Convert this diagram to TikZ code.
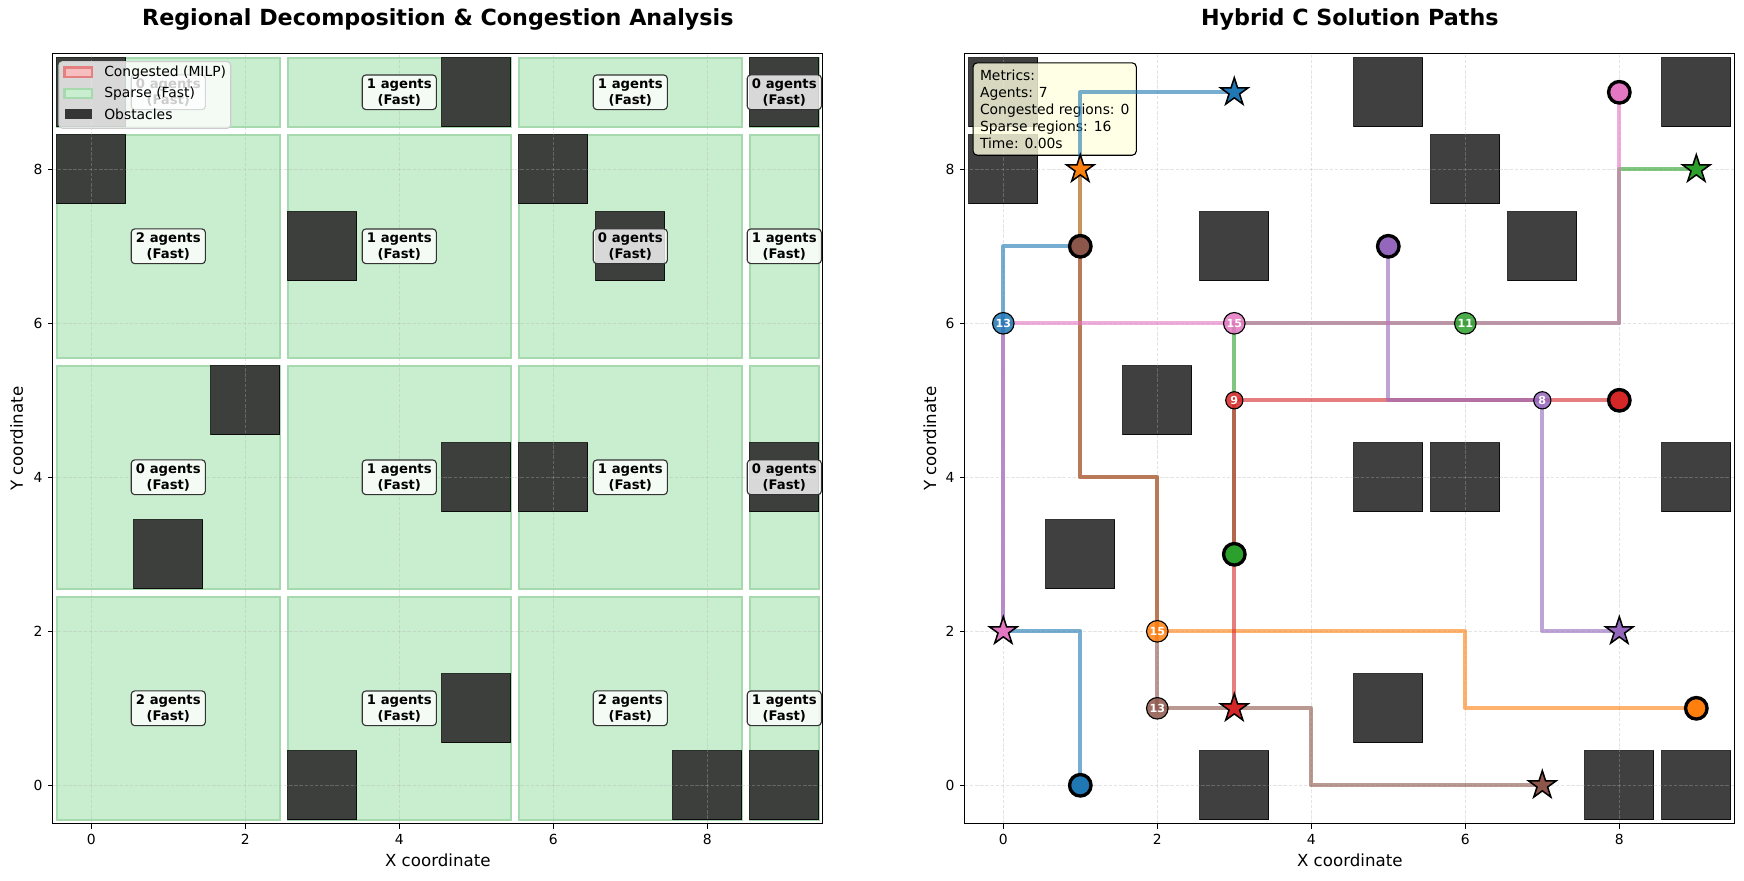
\documentclass[tikz,border=0pt]{standalone}
\usepackage{fontspec}
\setmainfont{DejaVu Sans}
\usetikzlibrary{shapes.geometric,positioning}

\definecolor{tblue}{HTML}{1F77B4}
\definecolor{torange}{HTML}{FF7F0E}
\definecolor{tgreen}{HTML}{2CA02C}
\definecolor{tred}{HTML}{D62728}
\definecolor{tpurple}{HTML}{9467BD}
\definecolor{tbrown}{HTML}{8C564B}
\definecolor{tpink}{HTML}{E377C2}
\definecolor{regfill}{RGB}{201,238,207}
\definecolor{regedge}{RGB}{166,217,174}
\definecolor{obstdark}{RGB}{60,63,60}
\definecolor{milpfill}{RGB}{246,190,190}
\definecolor{milpedge}{RGB}{228,128,128}
\definecolor{metricfill}{RGB}{255,255,224}

\begin{document}
\begin{tikzpicture}
  [x=0.72pt,y=0.72pt,
   region/.style={fill=regfill,draw=regedge,line width=1.5pt},
   obst/.style={fill=black,fill opacity=0.75,draw=black,draw opacity=0.8,line width=0.7pt},
   gridline/.style={draw=black!30,draw opacity=0.35,line width=0.6pt,dash pattern=on 2.5pt off 1.2pt},
   frame/.style={draw=black,line width=0.8pt},
   tick/.style={draw=black,line width=0.8pt},
   ticklbl/.style={inner sep=0pt,font=\fontsize{10}{12}\selectfont},
   axlbl/.style={inner sep=0pt,font=\fontsize{12}{14}\selectfont},
   ttl/.style={anchor=base,inner sep=0pt,font=\bfseries\fontsize{16}{19}\selectfont},
   cnt/.style={draw=black!80,line width=0.8pt,fill=white,fill opacity=0.8,text opacity=1,
     rounded corners=2.5pt,align=center,inner xsep=3.4pt,inner ysep=2.6pt,
     font=\bfseries\fontsize{9.5}{11.5}\selectfont},
   route/.style={line width=3pt,opacity=0.6,line join=round},
   start/.style={circle,draw=black,line width=2.4pt,minimum size=15.5pt,inner sep=0pt},
   goal/.style={star,star points=5,star point ratio=2.618,draw=black,line width=1.1pt,
     minimum size=21pt,inner sep=0pt},
   wait/.style={circle,draw=black,line width=0.8pt,fill opacity=0.85,text opacity=1,text=white,
     minimum size=15pt,inner sep=0pt,font=\bfseries\fontsize{8}{8}\selectfont},
   legtxt/.style={anchor=west,inner sep=0pt,font=\fontsize{10}{12}\selectfont}]

  \fill[white] (0,0) rectangle (1744,881);
  \useasboundingbox (0,0) rectangle (1744,881);

  % titles and axis labels
  \node[ttl] (t-left) at (437.8,855) {Regional Decomposition \& Congestion Analysis};
  \node[ttl] (t-right) at (1349.8,855) {Hybrid C Solution Paths};
  \node[axlbl] (xl-left) at (437.8,21) {X coordinate};
  \node[axlbl] (xl-right) at (1349.8,21) {X coordinate};
  \node[axlbl,rotate=90] (yl-left) at (16.7,442.3) {Y coordinate};
  \node[axlbl,rotate=90] (yl-right) at (929.8,442.3) {Y coordinate};

  % left: regions
  \begin{scope}[shift={(91.3,95.7)},x=55.44pt,y=55.44pt]
    \foreach \xa/\xb in {-0.5/2.5,2.5/5.5,5.5/8.5,8.5/9.5}
      \foreach \ya/\yb in {-0.5/2.5,2.5/5.5,5.5/8.5,8.5/9.5}
        \draw[region] (\xa+0.05,\ya+0.05) rectangle (\xb-0.05,\yb-0.05);
    \foreach \ox/\oy in {0/9,0/8,3/7,5/9,9/9,6/8,7/7,2/5,1/3,5/4,6/4,9/4,3/0,5/1,8/0,9/0}
      \draw[obst,fill=obstdark,fill opacity=1] (\ox-0.45,\oy-0.45) rectangle (\ox+0.45,\oy+0.45);
    \foreach \g in {0,2,4,6,8} {
      \draw[gridline] (\g,-0.5) -- (\g,9.5);
      \draw[gridline] (-0.5,\g) -- (9.5,\g);
    }
    \foreach \lx/\ly/\n in {1/9/0,4/9/1,7/9/1,9/9/0,1/7/2,4/7/1,7/7/0,9/7/1,
                            1/4/0,4/4/1,7/4/1,9/4/0,1/1/2,4/1/1,7/1/2,9/1/1}
      \node[cnt] (c\lx\ly) at (\lx,\ly) {\n\ agents\\(Fast)};
    \foreach \g in {0,2,4,6,8} {
      \draw[tick] (\g,-0.5) -- ++(0,-3.5pt) node[ticklbl,below=3.5pt] (lx\g) {\g};
      \draw[tick] (-0.5,\g) -- ++(-3.5pt,0) node[ticklbl,left=3.5pt] (ly\g) {\g};
    }
  \end{scope}

  % left: legend
  \draw[draw=black!20,fill=white,fill opacity=0.8,rounded corners=2.5pt,line width=0.8pt]
    (59,752.7) rectangle (230.7,819.3);
  \draw[fill=milpfill,draw=milpedge,line width=1.6pt] (64.5,803.9) rectangle (92.3,813.5);
  \draw[fill=regfill,draw=regedge,line width=1.6pt] (64.5,782.7) rectangle (92.3,792.3);
  \fill[black,fill opacity=0.75] (64.5,762.2) rectangle (92.3,771.8);
  \node[legtxt] (lg1) at (104,808.7) {Congested (MILP)};
  \node[legtxt] (lg2) at (104,787.5) {Sparse (Fast)};
  \node[legtxt] (lg3) at (104,767) {Obstacles};
  \draw[frame] (52.8,57.2) rectangle (822.8,827.2);

  % right: paths
  \begin{scope}[shift={(1003.3,95.7)},x=55.44pt,y=55.44pt]
    \foreach \ox/\oy in {0/9,0/8,3/7,5/9,9/9,6/8,7/7,2/5,1/3,5/4,6/4,9/4,3/0,5/1,8/0,9/0}
      \draw[obst] (\ox-0.45,\oy-0.45) rectangle (\ox+0.45,\oy+0.45);
    \foreach \g in {0,2,4,6,8} {
      \draw[gridline] (\g,-0.5) -- (\g,9.5);
      \draw[gridline] (-0.5,\g) -- (9.5,\g);
    }
    \node[anchor=north west,draw=black,line width=0.8pt,fill=metricfill,fill opacity=0.8,
      text opacity=1,rounded corners=3pt,align=left,inner sep=5pt,
      font=\fontsize{10}{12.2}\selectfont] (metrics) at (-0.4,9.39)
      {Metrics:\\Agents: 7\\Congested regions: 0\\Sparse regions: 16\\Time: 0.00s};

    \coordinate (s0) at (1,0); \coordinate (t0) at (3,9);
    \coordinate (s1) at (9,1); \coordinate (t1) at (1,8);
    \coordinate (s2) at (3,3); \coordinate (t2) at (9,8);
    \coordinate (s3) at (8,5); \coordinate (t3) at (3,1);
    \coordinate (s4) at (5,7); \coordinate (t4) at (8,2);
    \coordinate (s5) at (1,7); \coordinate (t5) at (7,0);
    \coordinate (s6) at (8,9); \coordinate (t6) at (0,2);

    \draw[route,tblue] (s0) -- (1,2) -- (0,2) -- (0,7) -- (1,7) -- (1,9) -- (t0);
    \draw[route,torange] (s1) -- (6,1) -- (6,2) -- (2,2) -- (2,4) -- (1,4) -- (t1);
    \draw[route,tgreen] (s2) -- (3,6) -- (8,6) -- (8,8) -- (t2);
    \draw[route,tred] (s3) -- (3,5) -- (t3);
    \draw[route,tpurple] (s4) -- (5,5) -- (7,5) -- (7,2) -- (t4);
    \draw[route,tbrown] (s5) -- (1,4) -- (2,4) -- (2,1) -- (4,1) -- (4,0) -- (t5);
    \draw[route,tpink] (s6) -- (8,6) -- (0,6) -- (t6);

    \foreach \wx/\wy/\c/\n/\d in {0/6/tblue/13/15.5pt,2/2/torange/15/15.5pt,6/6/tgreen/11/15.5pt,
                                  3/5/tred/9/12.4pt,7/5/tpurple/8/12.4pt,2/1/tbrown/13/15.5pt,
                                  3/6/tpink/15/15.5pt}
      \node[wait,fill=\c,minimum size=\d] (w\wx\wy) at (\wx,\wy) {\n};

    \foreach \a/\c in {0/tblue,1/torange,2/tgreen,3/tred,4/tpurple,5/tbrown,6/tpink} {
      \node[start,fill=\c] (a\a) at (s\a) {};
      \node[goal,fill=\c] (b\a) at (t\a) {};
    }

    \foreach \g in {0,2,4,6,8} {
      \draw[tick] (\g,-0.5) -- ++(0,-3.5pt) node[ticklbl,below=3.5pt] (rx\g) {\g};
      \draw[tick] (-0.5,\g) -- ++(-3.5pt,0) node[ticklbl,left=3.5pt] (ry\g) {\g};
    }
    \draw[frame] (-0.5,-0.5) rectangle (9.5,9.5);
  \end{scope}
\end{tikzpicture}
\end{document}
